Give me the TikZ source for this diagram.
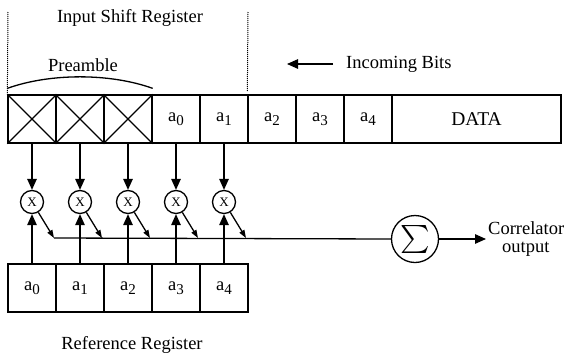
\documentclass[tikz,border=0pt]{standalone}
\usepackage{fontspec}
\setmainfont{Liberation Serif}
\usetikzlibrary{arrows.meta}
\newcommand\asub[2]{#1\raisebox{-4.5pt}{\fontsize{15}{15}\selectfont #2}}
\begin{document}
\begin{tikzpicture}[x=1pt,y=-1pt,
  lbl/.style={font=\fontsize{18.5}{20}\selectfont, inner sep=0pt},
  cell/.style={draw, line width=1.3pt, minimum width=48pt, minimum height=48pt, inner sep=0pt, font=\fontsize{18.5}{20}\selectfont},
  mult/.style={draw, circle, line width=1.3pt, minimum size=23pt, inner sep=0pt, font=\fontsize{13}{13}\selectfont},
  arr/.style={line width=1.3pt, -{Triangle[length=11pt,width=9.5pt]}},
  sarr/.style={line width=1.3pt, -{Triangle[length=8pt,width=5.5pt]}},
  guide/.style={line width=1pt, densely dotted}]
\useasboundingbox (0,0) rectangle (569,356);
% top register
\foreach \i/\t in {0/,1/,2/,3/\asub{a}{0},4/\asub{a}{1},5/\asub{a}{2},6/\asub{a}{3},7/\asub{a}{4}}{
  \node[cell] (t\i) at (32+48*\i,119) {\t};
}
\node[cell, minimum width=169pt, font=\fontsize{19.5}{20}\selectfont] (t8) at (476.5,119) {DATA};
\foreach \i in {0,1,2}{
  \draw[line width=1.3pt] (t\i.north west) -- (t\i.south east) (t\i.south west) -- (t\i.north east);
}
% reference register
\foreach \i in {0,...,4}{
  \node[cell] (r\i) at (32+48*\i,288) {\asub{a}{\i}};
  \node[mult] (m\i) at (32+48*\i,202) {X};
  \coordinate (d\i) at (54+48*\i,238);
  \draw[arr] (t\i.south) -- (m\i.north);
  \draw[arr] (r\i.north) -- (m\i.south);
  \draw[sarr] (m\i) -- (d\i);
}
\node[draw, circle, line width=1.3pt, minimum size=47pt, inner sep=0pt] (sum) at (415,239) {\scalebox{2.8}{$\sum$}};
\draw[line width=1.3pt] (d0) -- (sum.west);
\coordinate (outc) at (486,239);
\draw[arr] (sum.east) -- (outc);
\node[lbl, anchor=west] (corr) at (488,228) {Correlator};
\node[lbl, anchor=west] (outp) at (502,249) {output};
% labels
\node[lbl] (isr) at (130,18) {Input Shift Register};
\node[lbl] (pre) at (83,65) {Preamble};
\node[lbl, anchor=west] (bits) at (346,64) {Incoming Bits};
\coordinate (inhead) at (287,64);
\draw[arr, shorten <=13pt] (bits.west) -- (inhead);
\node[lbl] (rr) at (132,345) {Reference Register};
% guides
\coordinate (g1) at (8,12);
\coordinate (g2) at (248,12);
\draw[guide] (g1) -- (t0.north west);
\draw[guide] (g2) -- ([yshift=3pt]t5.north west);
\draw[line width=1.3pt] ([yshift=6pt]t0.north west) .. controls (50,73) and (110,73) .. ([yshift=6pt]t2.north east);
\end{tikzpicture}
\end{document}
